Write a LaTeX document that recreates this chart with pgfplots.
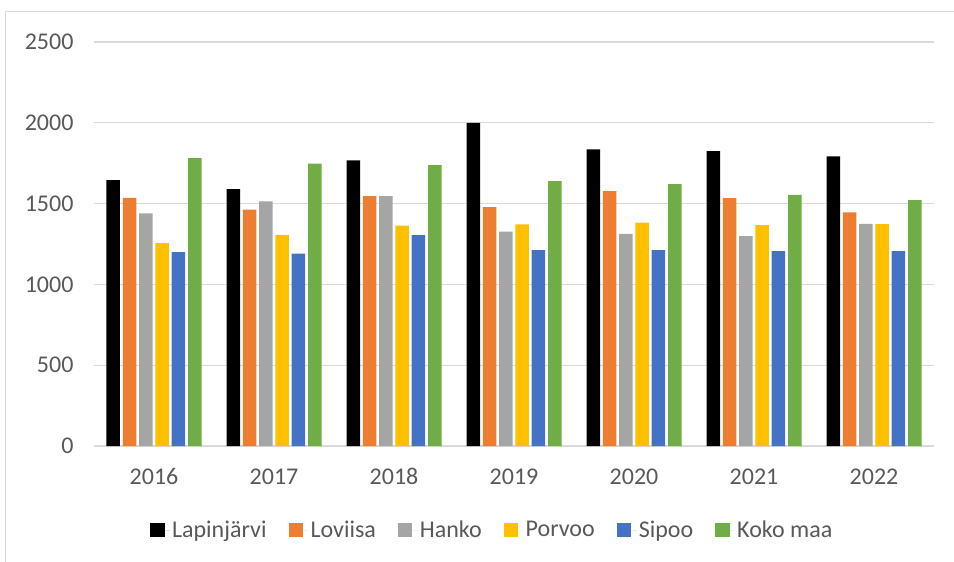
\documentclass[border=0pt]{standalone}
\usepackage{pgfplots}
\pgfplotsset{compat=1.18}
\usepackage{fontspec}
\setmainfont{Carlito}

\definecolor{cLap}{HTML}{000000}
\definecolor{cLov}{HTML}{ED7D31}
\definecolor{cHan}{HTML}{A5A5A5}
\definecolor{cPor}{HTML}{FFC000}
\definecolor{cSip}{HTML}{4472C4}
\definecolor{cKok}{HTML}{70AD47}
\definecolor{gridgray}{HTML}{D9D9D9}
\definecolor{labelgray}{HTML}{595959}

\begin{document}
\begin{tikzpicture}
\useasboundingbox (-94bp,-116bp) rectangle (860bp,446bp);
% chart frame (only left and top edges visible)
\draw[gridgray, line width=1bp] (-88bp,-116bp) -- (-88bp,434bp) -- (860bp,434bp);
\begin{axis}[
    at={(0,0)}, anchor=south west,
    scale only axis,
    width=840bp, height=404bp,
    ybar=2.8bp, bar width=13.5bp,
    xmin=-0.5, xmax=6.5,
    ymin=0, ymax=2500,
    xtick={0,...,6},
    xticklabels={2016,2017,2018,2019,2020,2021,2022},
    ytick={0,500,...,2500},
    ymajorgrids,
    grid style={gridgray, line width=1.3bp},
    axis line style={draw=none},
    tick style={draw=none},
    ticklabel style={font=\fontsize{24bp}{28bp}\selectfont, text=labelgray},
    /pgf/number format/assume math mode=true,
    /pgf/number format/1000 sep={},
    yticklabel style={xshift=-17bp},
    xticklabel style={yshift=-15bp, text height=16bp, text depth=0bp},
    legend style={
        at={(0.474,-0.208)}, anchor=center,
        draw=none, legend columns=-1,
        font=\fontsize{24bp}{28bp}\selectfont, text=labelgray,
        /tikz/every even column/.append style={column sep=20bp},
    },
    legend image code/.code={\fill[#1] (0bp,-7bp) rectangle (14.5bp,7bp);
        \path (0bp,0bp) -- (20bp,0bp);},
]
\addplot[fill=cLap, draw=none] coordinates
{(0,1646) (1,1589) (2,1767) (3,2000) (4,1835) (5,1825) (6,1792)};
\addplot[fill=cLov, draw=none] coordinates
{(0,1536) (1,1462) (2,1546) (3,1478) (4,1577) (5,1534) (6,1445)};
\addplot[fill=cHan, draw=none] coordinates
{(0,1439) (1,1513) (2,1546) (3,1326) (4,1313) (5,1299) (6,1375)};
\addplot[fill=cPor, draw=none] coordinates
{(0,1255) (1,1307) (2,1363) (3,1371) (4,1383) (5,1367) (6,1373)};
\addplot[fill=cSip, draw=none] coordinates
{(0,1200) (1,1191) (2,1305) (3,1212) (4,1212) (5,1206) (6,1206)};
\addplot[fill=cKok, draw=none] coordinates
{(0,1781) (1,1748) (2,1738) (3,1639) (4,1620) (5,1554) (6,1522)};
\legend{Lapinjärvi, Loviisa, Hanko, Porvoo, Sipoo, Koko maa}
\end{axis}
\end{tikzpicture}
\end{document}
